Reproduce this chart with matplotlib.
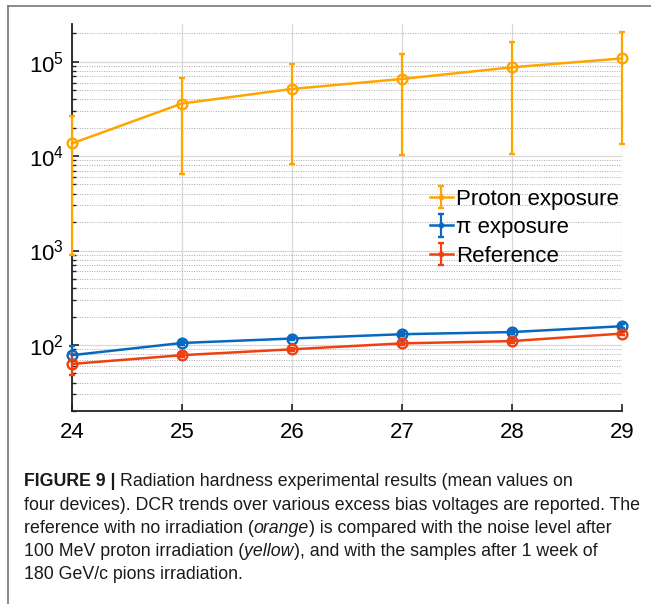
import numpy as np
import matplotlib.pyplot as plt
from matplotlib.ticker import LogLocator, FixedLocator

plt.rcParams['font.family'] = ['Liberation Sans', 'DejaVu Sans']
plt.rcParams['mathtext.fontset'] = 'custom'
plt.rcParams['mathtext.rm'] = 'Liberation Sans'
plt.rcParams['mathtext.it'] = 'Liberation Sans:italic'

# -------------------------------
# Data
# -------------------------------
bias = [24, 25, 26, 27, 28, 29]

proton_mean = [13600, 36000, 51300, 65500, 87000, 108000]
proton_hi = [26700, 66400, 94600, 120800, 163000, 207000]
proton_lo = [900, 6380, 8220, 10250, 10600, 13500]

pion_mean = [78, 105, 117, 130, 137, 158]
pion_hi = [98, 110, 122, 136, 143, 165]
pion_lo = [68, 100, 112, 124, 131, 151]

ref_mean = [63, 78, 90, 104, 110, 132]
ref_hi = [80, 82, 94, 109, 115, 138]
ref_lo = [48, 74, 86, 99, 105, 126]

labels = ['Proton exposure', 'π exposure', 'Reference']
colors = ['#FFA500', '#0868C0', '#F0400F']

caption = [
    [("FIGURE 9 | ", 'bold', 'normal'),
     ("Radiation hardness experimental results (mean values on", 'normal', 'normal')],
    [("four devices). DCR trends over various excess bias voltages are reported. The", 'normal', 'normal')],
    [("reference with no irradiation (", 'normal', 'normal'), ("orange", 'normal', 'italic'),
     (") is compared with the noise level after", 'normal', 'normal')],
    [("100 MeV proton irradiation (", 'normal', 'normal'), ("yellow", 'normal', 'italic'),
     ("), and with the samples after 1 week of", 'normal', 'normal')],
    [("180 GeV/c pions irradiation.", 'normal', 'normal')],
]

# -------------------------------
# Figure
# -------------------------------
fig = plt.figure(figsize=(6.51, 6.04), dpi=100)
W, H = 651, 604
ax = fig.add_axes([72 / W, (H - 411) / H, (622 - 72) / W, (411 - 24) / H])

series = [(proton_mean, proton_lo, proton_hi),
          (pion_mean, pion_lo, pion_hi),
          (ref_mean, ref_lo, ref_hi)]
for (m, lo, hi), lab, c in zip(series, labels, colors):
    m = np.array(m, float)
    yerr = [m - np.array(lo), np.array(hi) - m]
    ax.errorbar(bias, m, yerr=yerr, color=c, lw=1.8, marker='o', ms=7,
                mfc='none', mec=c, mew=1.7, capsize=2.5, elinewidth=1.6,
                capthick=1.4, label=lab, clip_on=False, zorder=3)

ax.set_yscale('log')
ax.set_xlim(24, 29)
ax.set_ylim(20, 2.5e5)
ax.xaxis.set_major_locator(FixedLocator(bias))
ax.yaxis.set_major_locator(LogLocator(base=10, numticks=10))
ax.yaxis.set_minor_locator(LogLocator(base=10, subs=np.arange(2, 10), numticks=20))

ax.grid(True, which='major', axis='both', color='#d9d9d9', lw=0.9, ls='-', zorder=0)
ax.grid(True, which='minor', axis='y', color='#aaaaaa', lw=0.7, ls=(0, (1, 1.5)), zorder=0)
ax.set_axisbelow(True)

for s in ['top', 'right']:
    ax.spines[s].set_visible(False)
for s in ['left', 'bottom']:
    ax.spines[s].set_linewidth(1.3)
    ax.spines[s].set_color('#222222')

ax.tick_params(axis='both', which='major', direction='in', length=5, width=1.2,
               labelsize=16, colors='#222222', labelcolor='black')
ax.tick_params(axis='both', which='minor', direction='in', length=3, width=1.0, colors='#222222')
ax.tick_params(axis='x', pad=8)
ax.tick_params(axis='y', pad=6)

leg = ax.legend(loc='upper left', bbox_to_anchor=(0.65, 0.574), frameon=False,
                fontsize=16, handlelength=1.05, handletextpad=0.15,
                labelspacing=0.33, borderpad=0, borderaxespad=0, markerscale=0.35)

# -------------------------------
# Frame lines and caption
# -------------------------------
fig.add_artist(plt.Line2D([8 / W, 8 / W], [0, 1 - 6 / H], color='#777777', lw=1.2))
fig.add_artist(plt.Line2D([8 / W, 1], [1 - 6 / H, 1 - 6 / H], color='#777777', lw=1.2))

fig.canvas.draw()
renderer = fig.canvas.get_renderer()

# pick a caption size so the longest line spans about 620 px, like the original
probe = fig.text(0, 0, caption[1][0][0], fontsize=12)
cap_size = 12 * 620 / probe.get_window_extent(renderer).width
probe.remove()

y0 = 482
for i, line in enumerate(caption):
    x = 24
    y = y0 + i * 23.2
    for txt, wt, st in line:
        t = fig.text(x / W, 1 - y / H, txt, fontsize=cap_size, fontweight=wt, fontstyle=st,
                     va='center', ha='left', color='#1a1a1a')
        x += t.get_window_extent(renderer).width

fig.savefig('out.png', dpi=100)
